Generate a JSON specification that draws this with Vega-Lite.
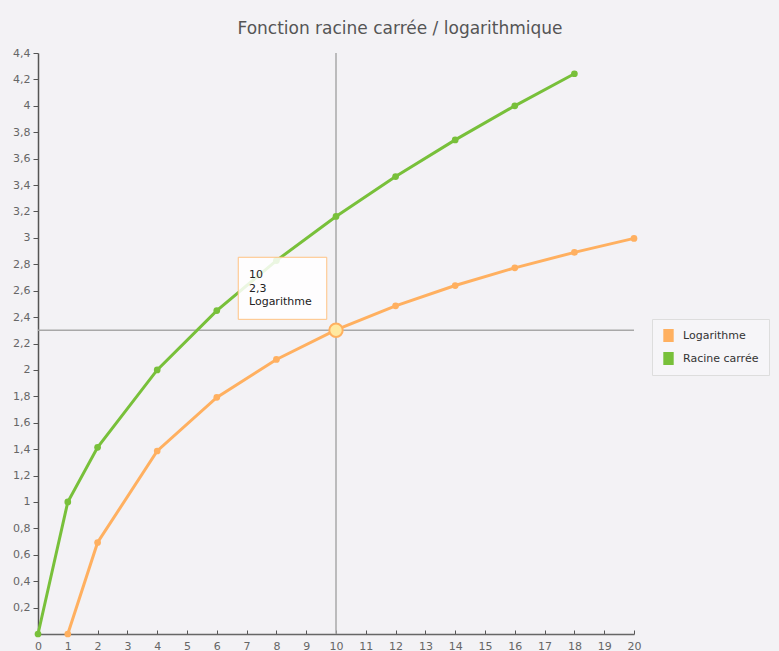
{
  "$schema": "https://vega.github.io/schema/vega-lite/v6.json",
  "width": 596,
  "height": 581,
  "autosize": {"type": "none"},
  "padding": {"left": 38, "top": 53, "right": 145, "bottom": 17},
  "background": "#f3f2f5",
  "config": {"view": {"stroke": null}, "font": "DejaVu Sans", "axis": {"labelOverlap": false, "labelFlush": false, "grid": false}},
  "title": {"text": "Fonction racine carrée / logarithmique", "fontSize": 17, "fontWeight": "normal", "color": "#555555", "anchor": "middle", "dx": 64, "offset": 9, "font": "DejaVu Sans"},
  "datasets": {
    "series": [
      {"x": 1, "y": 0, "serie": "Logarithme"},
      {"x": 2, "y": 0.693, "serie": "Logarithme"},
      {"x": 4, "y": 1.386, "serie": "Logarithme"},
      {"x": 6, "y": 1.792, "serie": "Logarithme"},
      {"x": 8, "y": 2.079, "serie": "Logarithme"},
      {"x": 10, "y": 2.303, "serie": "Logarithme"},
      {"x": 12, "y": 2.485, "serie": "Logarithme"},
      {"x": 14, "y": 2.639, "serie": "Logarithme"},
      {"x": 16, "y": 2.773, "serie": "Logarithme"},
      {"x": 18, "y": 2.89, "serie": "Logarithme"},
      {"x": 20, "y": 2.996, "serie": "Logarithme"},
      {"x": 0, "y": 0, "serie": "Racine carrée"},
      {"x": 1, "y": 1, "serie": "Racine carrée"},
      {"x": 2, "y": 1.414, "serie": "Racine carrée"},
      {"x": 4, "y": 2, "serie": "Racine carrée"},
      {"x": 6, "y": 2.449, "serie": "Racine carrée"},
      {"x": 8, "y": 2.828, "serie": "Racine carrée"},
      {"x": 10, "y": 3.162, "serie": "Racine carrée"},
      {"x": 12, "y": 3.464, "serie": "Racine carrée"},
      {"x": 14, "y": 3.742, "serie": "Racine carrée"},
      {"x": 16, "y": 4, "serie": "Racine carrée"},
      {"x": 18, "y": 4.243, "serie": "Racine carrée"}
    ],
    "cross": [{"x": 10, "y": 2.3}],
    "tip": [{"x": 6.72, "x2": 9.69, "y": 2.853, "y2": 2.383, "tx": 7.08, "ty": 2.764, "label": "10\n2,3\nLogarithme"}]
  },
  "layer": [
    {
      "data": {"name": "cross"},
      "mark": {"type": "rule", "color": "#a8a8a8", "strokeWidth": 1.5},
      "encoding": {"x": {"field": "x", "type": "quantitative", "title": null, "scale": {"domain": [0, 20], "nice": false},
          "axis": {"values": [0,1,2,3,4,5,6,7,8,9,10,11,12,13,14,15,16,17,18,19,20], "tickCount": 40, "format": "d", "title": null, "grid": false, "tickSize": -4, "labelPadding": 10, "domainColor": "#666666", "tickColor": "#555555", "labelColor": "#666666", "labelFontSize": 11, "labelFlush": false, "labelOverlap": false, "domainWidth": 1.5}}}
    },
    {
      "data": {"name": "cross"},
      "mark": {"type": "rule", "color": "#a8a8a8", "strokeWidth": 1.5},
      "encoding": {"y": {"field": "y", "type": "quantitative", "title": null, "scale": {"domain": [0, 4.4], "nice": false},
          "axis": {"values": [0.2,0.4,0.6,0.8,1,1.2,1.4,1.6,1.8,2,2.2,2.4,2.6,2.8,3,3.2,3.4,3.6,3.8,4,4.2,4.4], "tickCount": 40, "labelExpr": "replace(format(datum.value, '.1~f'), '.', ',')", "title": null, "grid": false, "tickSize": 5, "labelPadding": 3, "domainColor": "#555555", "tickColor": "#555555", "labelColor": "#666666", "labelFontSize": 11, "labelFlush": false, "labelOverlap": false, "domainWidth": 1.5}}}
    },
    {
      "data": {"name": "series"},
      "mark": {"type": "line", "strokeWidth": 3, "point": {"filled": true, "size": 45, "opacity": 1}},
      "encoding": {
        "x": {"field": "x", "type": "quantitative", "title": null},
        "y": {"field": "y", "type": "quantitative", "title": null},
        "color": {"field": "serie", "type": "nominal",
          "scale": {"domain": ["Logarithme", "Racine carrée"], "range": ["#ffb060", "#78c03a"]},
          "legend": {"orient": "none", "legendX": 614, "legendY": 266, "title": null, "symbolType": "M-0.8,-1H0.8V1H-0.8Z", "symbolSize": 169, "symbolStrokeWidth": 0, "labelFontSize": 11, "labelColor": "#333333", "padding": 10, "strokeColor": "#dddddd", "fillColor": "#f6f5f8", "rowPadding": 10, "labelOffset": 8,
            "encode": {"symbols": {"update": {"fill": {"scale": "color", "field": "value"}, "stroke": {"value": "transparent"}, "opacity": {"value": 1}}}}}}
      }
    },
    {
      "data": {"name": "cross"},
      "mark": {"type": "point", "filled": true, "fill": "#ffe9a0", "stroke": "#ffb060", "strokeWidth": 2, "size": 180, "opacity": 1},
      "encoding": {
        "x": {"field": "x", "type": "quantitative", "title": null},
        "y": {"field": "y", "type": "quantitative", "title": null}
      }
    },
    {
      "data": {"name": "tip"},
      "mark": {"type": "rect", "fill": "#ffffff", "fillOpacity": 0.85, "stroke": "#ffc283", "strokeWidth": 1},
      "encoding": {
        "x": {"field": "x", "type": "quantitative", "title": null},
        "x2": {"field": "x2"},
        "y": {"field": "y", "type": "quantitative", "title": null},
        "y2": {"field": "y2"}
      }
    },
    {
      "data": {"name": "tip"},
      "mark": {"type": "text", "align": "left", "baseline": "top", "fontSize": 11, "color": "#222222", "lineBreak": "\n", "lineHeight": 13.5},
      "encoding": {
        "x": {"field": "tx", "type": "quantitative", "title": null},
        "y": {"field": "ty", "type": "quantitative", "title": null},
        "text": {"field": "label"}
      }
    }
  ]
}
